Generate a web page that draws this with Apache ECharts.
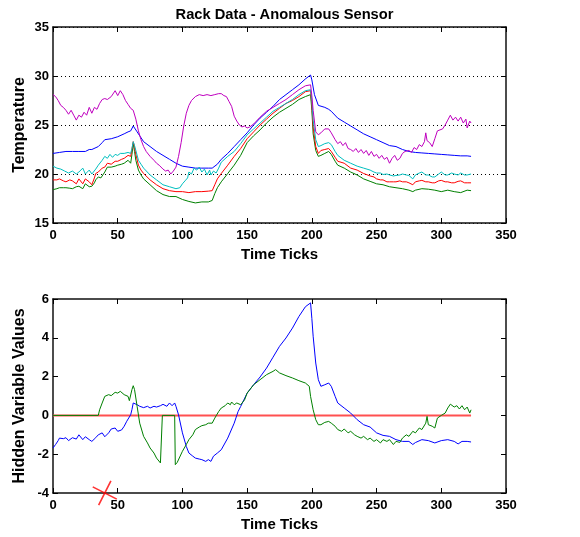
<!DOCTYPE html>
<html>
<head>
<meta charset="utf-8">
<script src="https://cdn.jsdelivr.net/npm/echarts@6/dist/echarts.min.js"></script>
<style>html,body{margin:0;padding:0;background:#fff}#c{width:580px;height:537px}</style>
</head>
<body>
<div id="c"></div>
<script>
const titleText = 'Rack Data - Anomalous Sensor';
const xName = 'Time Ticks';
const topYName = 'Temperature';
const botYName = 'Hidden Variable Values';
const xTicks = {min: 0, max: 350, interval: 50};
const topYTicks = {min: 15, max: 35, interval: 5};
const botYTicks = {min: -4, max: 6, interval: 2};

const topBlue = [[0,22.1],[5,22.2],[10,22.3],[15,22.3],[20,22.3],[25,22.3],[28,22.5],[30,22.5],[35,22.8],[38,23.2],[40,23.5],[45,23.6],[50,23.8],[55,24.1],[58,24.3],[60,24.4],[62,24.9],[65,24.3],[70,23.3],[75,22.8],[80,22.3],[85,21.9],[90,21.5],[95,21.1],[100,20.8],[105,20.7],[110,20.6],[115,20.6],[120,20.6],[123,20.6],[127,21.0],[130,21.5],[135,22.1],[140,22.8],[145,23.5],[150,24.2],[155,25.0],[160,25.7],[165,26.3],[170,26.9],[175,27.6],[180,28.1],[185,28.6],[190,29.1],[195,29.7],[199,30.1],[200,29.6],[202,28.1],[205,27.0],[210,26.8],[213,26.6],[215,26.4],[220,25.7],[225,25.3],[230,24.9],[235,24.5],[240,24.1],[245,23.8],[250,23.5],[255,23.2],[260,22.9],[265,22.8],[270,22.5],[275,22.3],[280,22.2],[285,22.15],[290,22.1],[295,22.05],[300,22.0],[305,21.95],[310,21.9],[315,21.85],[320,21.85],[323,21.8]];

const topMagenta = [[0,28.1],[2,27.9],[4,27.5],[6,27.0],[8,26.8],[10,26.5],[12,26.1],[14,26.5],[16,26.0],[18,25.5],[20,26.0],[22,25.8],[24,26.3],[26,26.0],[28,26.8],[30,26.2],[32,26.8],[34,26.6],[36,27.2],[38,27.6],[40,27.7],[42,27.6],[45,27.9],[48,28.5],[50,28.0],[52,28.5],[54,28.1],[56,27.5],[58,27.1],[60,26.7],[62,26.5],[64,25.6],[66,24.4],[68,23.5],[70,22.8],[72,22.3],[75,21.8],[78,21.4],[80,21.1],[82,20.9],[85,20.5],[87,20.3],[89,20.4],[91,20.0],[93,20.3],[95,20.7],[97,21.8],[99,23.2],[101,24.9],[103,26.2],[105,27.0],[107,27.5],[110,27.9],[113,28.1],[116,28.0],[119,28.1],[122,28.0],[125,28.1],[128,28.2],[130,28.2],[132,28.0],[134,27.9],[136,27.4],[138,26.9],[140,25.9],[142,25.4],[144,25.0],[146,24.8],[148,24.9],[150,24.7],[152,24.8],[155,25.1],[160,25.8],[165,26.4],[170,26.8],[175,27.2],[180,27.6],[185,28.1],[190,28.6],[195,29.0],[199,29.1],[200,28.0],[201,26.5],[203,24.3],[205,24.0],[207,24.2],[210,24.6],[213,24.6],[215,24.2],[218,23.5],[220,23.1],[222,23.3],[224,22.9],[226,23.2],[228,22.6],[230,22.5],[232,22.3],[234,22.6],[236,22.2],[238,22.5],[240,22.1],[242,22.4],[244,21.9],[246,22.3],[248,21.8],[250,22.0],[252,21.6],[254,21.9],[256,21.5],[258,21.7],[260,21.1],[262,21.6],[264,21.9],[266,21.4],[268,21.6],[270,22.1],[272,22.3],[275,22.4],[277,22.2],[279,22.7],[281,22.5],[283,23.0],[285,22.8],[287,23.3],[288,24.2],[289,23.4],[291,23.2],[293,22.8],[295,23.6],[297,24.4],[299,24.5],[301,24.6],[303,25.0],[305,25.5],[307,26.0],[309,25.5],[311,25.8],[313,25.4],[315,25.8],[317,25.2],[319,25.6],[320,24.7],[322,25.4],[323,25.2]];

const topCyan = [[0,20.8],[3,20.6],[6,20.5],[9,20.3],[12,20.1],[15,20.3],[18,20.0],[20,20.2],[23,20.6],[25,20.0],[28,20.4],[30,20.0],[33,20.5],[35,20.9],[38,21.4],[40,21.8],[42,21.6],[44,22.0],[46,21.7],[48,22.0],[50,21.9],[52,22.1],[55,22.1],[58,22.2],[60,22.1],[61,22.6],[62,23.3],[63,22.9],[64,22.4],[66,21.4],[68,21.0],[70,20.6],[75,19.9],[80,19.4],[85,18.9],[90,18.7],[95,18.5],[98,18.6],[100,19.0],[102,19.3],[104,19.6],[105,20.2],[107,20.0],[109,20.6],[111,20.4],[113,20.7],[115,20.2],[117,20.5],[119,19.9],[121,20.4],[122,19.9],[124,20.3],[126,20.1],[128,20.6],[130,21.2],[135,21.8],[140,22.3],[145,23.1],[150,24.0],[155,24.6],[160,25.2],[165,25.8],[170,26.4],[175,26.8],[180,27.2],[185,27.6],[190,28.1],[195,28.5],[199,28.6],[200,27.5],[201,25.5],[203,23.5],[205,22.8],[207,22.9],[210,23.1],[213,23.2],[215,23.0],[218,22.3],[220,21.9],[225,21.4],[230,21.1],[235,20.8],[240,20.6],[245,20.4],[248,20.2],[250,20.1],[253,20.1],[255,19.95],[258,20.0],[260,19.9],[263,19.8],[265,19.85],[268,19.9],[270,20.0],[273,19.9],[275,19.85],[278,19.5],[280,19.9],[283,20.1],[285,20.2],[288,19.9],[290,19.9],[293,19.7],[295,19.7],[298,20.0],[300,20.2],[303,19.9],[305,19.9],[308,20.1],[310,20.0],[313,19.9],[315,20.1],[318,19.9],[320,19.9],[323,20.0]];

const topRed = [[0,19.4],[3,19.4],[5,19.5],[8,19.3],[10,19.2],[13,19.4],[15,19.3],[18,19.0],[20,19.5],[23,19.0],[25,19.5],[28,19.2],[30,18.9],[32,19.6],[33,20.05],[35,20.2],[38,20.6],[40,20.7],[42,21.1],[45,21.0],[48,21.3],[50,21.3],[53,21.5],[55,21.6],[58,21.9],[60,21.8],[61,22.5],[62,23.3],[63,22.7],[64,22.0],[66,20.9],[68,20.4],[70,20.05],[75,19.4],[80,18.9],[85,18.5],[90,18.3],[95,18.2],[100,18.2],[105,18.1],[110,18.2],[115,18.2],[120,18.25],[123,18.3],[125,18.9],[127,19.5],[130,20.05],[135,20.9],[140,21.8],[145,22.6],[150,23.6],[155,24.3],[160,25.0],[165,25.6],[170,26.2],[175,26.7],[180,27.2],[185,27.5],[190,27.9],[195,28.4],[199,28.5],[200,27.0],[201,24.8],[203,22.8],[205,22.1],[207,22.4],[210,22.5],[213,22.6],[215,22.3],[218,21.7],[220,21.3],[225,21.1],[230,20.6],[235,20.4],[240,20.05],[245,19.8],[248,19.7],[250,19.5],[253,19.4],[255,19.4],[258,19.2],[260,19.2],[263,19.2],[265,19.2],[268,19.3],[270,19.2],[273,19.2],[275,19.1],[278,18.9],[280,19.2],[283,19.3],[285,19.35],[288,19.2],[290,19.2],[293,19.1],[295,19.1],[298,19.3],[300,19.35],[303,19.2],[305,19.2],[308,19.1],[310,19.1],[313,19.25],[315,19.3],[318,19.1],[320,19.1],[323,19.1]];

const topGreen = [[0,18.4],[3,18.5],[5,18.6],[8,18.6],[10,18.6],[13,18.55],[15,18.5],[18,18.7],[20,18.75],[23,18.5],[25,19.0],[28,18.7],[30,18.75],[32,19.1],[33,19.4],[35,19.7],[37,19.6],[38,19.6],[40,20.2],[42,20.7],[45,20.7],[48,20.8],[50,20.9],[53,21.0],[55,21.1],[58,21.4],[60,21.1],[61,22.0],[62,23.1],[63,22.3],[64,21.4],[66,20.4],[68,19.9],[70,19.5],[75,18.9],[80,18.3],[85,17.9],[90,17.7],[95,17.7],[100,17.4],[105,17.2],[110,17.05],[115,17.15],[120,17.15],[123,17.3],[125,18.0],[127,18.6],[130,19.2],[135,20.05],[140,20.9],[145,21.9],[150,23.2],[155,23.9],[160,24.5],[165,25.2],[170,25.8],[175,26.3],[180,26.7],[185,27.1],[190,27.6],[195,27.9],[199,28.1],[200,26.5],[201,24.1],[203,22.4],[205,21.8],[207,21.9],[210,22.1],[213,22.3],[215,22.0],[218,21.3],[220,20.9],[225,20.6],[230,20.2],[235,19.9],[240,19.5],[245,19.25],[250,19.0],[255,18.9],[260,18.7],[265,18.6],[270,18.5],[275,18.35],[278,18.2],[280,18.35],[285,18.5],[290,18.45],[295,18.35],[300,18.2],[305,18.35],[310,18.2],[315,18.1],[320,18.35],[323,18.3]];

const botBlue = [[0,-1.68],[2,-1.5],[4,-1.3],[5,-1.17],[8,-1.2],[10,-1.15],[12,-1.3],[15,-1.15],[18,-1.22],[20,-1.0],[23,-1.25],[25,-1.1],[28,-1.25],[30,-1.34],[33,-1.15],[35,-1.0],[38,-0.9],[40,-1.1],[43,-0.9],[45,-0.7],[48,-0.65],[50,-0.82],[53,-0.75],[55,-0.56],[57,-0.3],[60,0.03],[61,0.3],[62,0.64],[63,0.73],[65,0.55],[67,0.47],[70,0.4],[73,0.47],[75,0.38],[78,0.47],[80,0.43],[83,0.5],[85,0.57],[88,0.47],[90,0.64],[92,0.5],[94,0.64],[95,0.47],[97,0.03],[100,-0.9],[103,-1.6],[105,-1.94],[108,-2.1],[110,-2.2],[113,-2.25],[115,-2.28],[118,-2.37],[120,-2.28],[122,-2.37],[124,-2.1],[127,-1.94],[130,-1.77],[135,-1.17],[140,-0.4],[143,0.2],[145,0.46],[150,1.15],[155,1.58],[160,1.98],[165,2.44],[170,3.0],[175,3.56],[180,3.99],[185,4.5],[190,5.1],[195,5.6],[199,5.8],[200,5.0],[201,4.08],[203,2.7],[205,1.84],[207,1.5],[210,1.58],[213,1.67],[215,1.5],[218,0.98],[220,0.64],[225,0.38],[230,0.12],[235,-0.22],[240,-0.48],[245,-0.6],[250,-0.9],[255,-1.03],[260,-1.08],[265,-1.25],[270,-1.34],[275,-1.34],[278,-1.5],[280,-1.4],[285,-1.25],[290,-1.3],[295,-1.42],[300,-1.3],[305,-1.25],[310,-1.34],[313,-1.47],[316,-1.34],[320,-1.34],[323,-1.37]];

const botGreen = [[0,0],[35,0],[36,0.29],[38,0.64],[40,0.98],[43,1.07],[45,1.02],[48,1.19],[50,1.15],[52,1.24],[55,1.07],[58,0.98],[59,0.76],[61,1.33],[62,1.53],[63,1.33],[65,0.46],[67,-0.4],[70,-1.08],[73,-1.42],[75,-1.68],[78,-1.94],[80,-2.2],[83,-2.45],[84,-2.54],[84.5,0],[94,0],[94.5,-2.54],[96,-2.42],[100,-1.85],[103,-1.5],[105,-1.25],[108,-1.0],[110,-0.73],[113,-0.6],[115,-0.53],[118,-0.48],[120,-0.4],[123,-0.4],[125,-0.14],[128,0.2],[130,0.38],[133,0.5],[135,0.64],[137,0.55],[138,0.69],[140,0.55],[142,0.64],[145,0.55],[148,0.8],[150,1.15],[155,1.58],[160,1.84],[165,2.1],[170,2.27],[172,2.36],[175,2.19],[180,2.05],[185,1.93],[190,1.79],[195,1.67],[198,1.5],[199,0.98],[201,0.29],[203,-0.22],[205,-0.48],[207,-0.48],[210,-0.36],[213,-0.31],[215,-0.4],[218,-0.56],[220,-0.73],[223,-0.82],[225,-0.7],[228,-0.9],[230,-0.82],[233,-1.0],[235,-1.08],[238,-1.17],[240,-1.08],[243,-1.25],[245,-1.17],[248,-1.34],[250,-1.25],[253,-1.42],[255,-1.25],[258,-1.34],[260,-1.25],[263,-1.5],[265,-1.34],[268,-1.39],[270,-1.17],[273,-1.0],[275,-1.08],[278,-0.82],[280,-0.9],[283,-0.65],[285,-0.73],[288,-0.4],[289,-0.05],[290,-0.48],[293,-0.56],[295,-0.65],[297,-0.14],[300,0],[303,0.12],[305,0.38],[307,0.58],[310,0.43],[312,0.5],[314,0.33],[316,0.5],[318,0.29],[320,0.43],[322,0.12],[323,0.29]];

const botRed = [[0,0],[323,0]];
const anomalyMark = [[40,-4]];

const FONT = 'Liberation Sans, Arial, sans-serif';
const tickStyle = {inside: true, length: 5, lineStyle: {color: '#000', width: 1}};
const lineAx = {show: true, onZero: false, lineStyle: {color: '#111', width: 1.5}};
const lblStyle = {color: '#000', fontFamily: FONT, fontWeight: 'bold', fontSize: 13};
const nameStyle = {color: '#000', fontFamily: FONT, fontWeight: 'bold', fontSize: 15};

function xAx(gi, primary) {
  return Object.assign({
    type: 'value', gridIndex: gi, min: xTicks.min, max: xTicks.max, interval: xTicks.interval,
    position: primary ? 'bottom' : 'top',
    axisLine: lineAx, axisTick: tickStyle, splitLine: {show: false},
    axisLabel: primary ? Object.assign({margin: 6}, lblStyle) : {show: false}
  }, primary ? {name: xName, nameLocation: 'middle', nameGap: 24, nameMoveOverlap: false, nameTextStyle: nameStyle} : {});
}
function yAx(gi, t, primary, name, grid) {
  return Object.assign({
    type: 'value', gridIndex: gi, min: t.min, max: t.max, interval: t.interval,
    position: primary ? 'left' : 'right',
    axisLine: lineAx, axisTick: tickStyle,
    splitLine: (primary && grid) ? {show: true, lineStyle: {color: '#000', type: [1, 3], width: 1}} : {show: false},
    axisLabel: primary ? Object.assign({margin: 4}, lblStyle) : {show: false}
  }, primary ? {name: name, nameLocation: 'middle', nameGap: 25, nameMoveOverlap: false, nameTextStyle: Object.assign({}, nameStyle, {fontSize: 16})} : {});
}
function ln(data, color, xi, yi, w) {
  return {type: 'line', data: data, xAxisIndex: xi, yAxisIndex: yi, showSymbol: false, symbol: 'none',
    lineStyle: {color: color, width: w || 1}, itemStyle: {color: color}, silent: true, animation: false};
}

const chart = echarts.init(document.getElementById('c'), null, {renderer: 'canvas'});
chart.setOption({
  backgroundColor: '#fff',
  animation: false,
  title: {text: titleText, left: 279.5, top: 2, textAlign: 'center',
    textStyle: {color: '#000', fontFamily: FONT, fontWeight: 'bold', fontSize: 14.7}},
  grid: [
    {left: 53, top: 27, width: 453, height: 196},
    {left: 53, top: 299, width: 453, height: 194}
  ],
  xAxis: [xAx(0, true), xAx(0, false), xAx(1, true), xAx(1, false)],
  yAxis: [yAx(0, topYTicks, true, topYName, true), yAx(0, topYTicks, false),
          yAx(1, botYTicks, true, botYName, false), yAx(1, botYTicks, false)],
  series: [
    ln(topBlue, '#0000ff', 0, 0),
    ln(topGreen, '#008000', 0, 0),
    ln(topRed, '#ff0000', 0, 0),
    ln(topCyan, '#00bfbf', 0, 0),
    ln(topMagenta, '#bf00bf', 0, 0),
    ln(botRed, '#ff5050', 2, 2, 2),
    ln(botBlue, '#0000ff', 2, 2),
    ln(botGreen, '#008000', 2, 2),
    {type: 'scatter', data: anomalyMark, xAxisIndex: 2, yAxisIndex: 2, clip: false, silent: true,
     symbol: 'path://M0,9.4 L20,9.4 L20,10.6 L0,10.6 Z M9.4,0 L10.6,0 L10.6,20 L9.4,20 Z',
     symbolSize: 27, symbolRotate: -27, itemStyle: {color: '#ff0000'}, z: 5}
  ]
});
</script>
</body>
</html>
